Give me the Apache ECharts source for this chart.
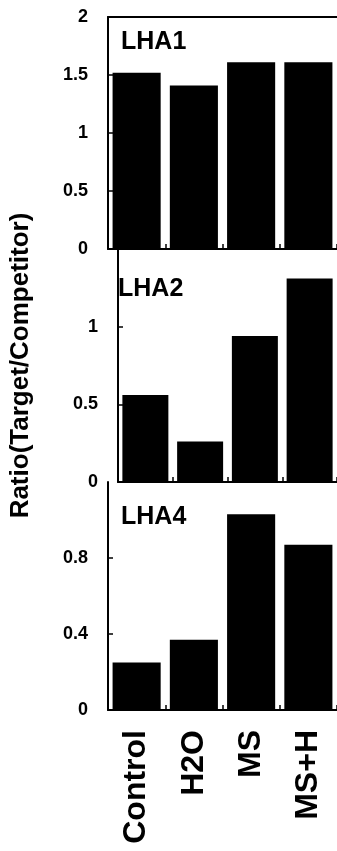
<!DOCTYPE html>
<html>
<head>
<meta charset="utf-8">
<script src="https://cdn.jsdelivr.net/npm/echarts@6/dist/echarts.min.js"></script>
<style>html,body{margin:0;padding:0;background:#fff;}#c{width:337px;height:851px;}</style>
</head>
<body>
<div id="c"></div>
<script>
const categories = ['Control', 'H2O', 'MS', 'MS+H'];
const lha1 = [1.52, 1.41, 1.61, 1.61];
const lha2 = [0.56, 0.26, 0.94, 1.31];
const lha4 = [0.25, 0.37, 1.03, 0.87];
const panelNames = ['LHA1', 'LHA2', 'LHA4'];
const yTitle = 'Ratio(Target/Competitor)';

const FONT = 'Liberation Sans, Arial, sans-serif';
const grids = [
  {left: 108, right: -4, top: 17, height: 232},
  {left: 108, right: -4, top: 249, height: 233},
  {left: 108, right: -4, top: 482, height: 228}
];
const yCfg = [
  {max: 2, interval: 0.5, hideMax: false},
  {max: 1.5, interval: 0.5, hideMax: true},
  {max: 1.2, interval: 0.4, hideMax: true}
];
const seriesData = [lha1, lha2, lha4];

const xAxes = [0, 1, 2].map(i => ({
  type: 'category', gridIndex: i, data: categories, position: 'bottom',
  axisLine: {show: true, lineStyle: {color: '#000', width: 2}},
  axisTick: {show: true, inside: true, length: 5, lineStyle: {color: '#000', width: 1.5}},
  axisLabel: i === 2 ? {show: true, rotate: 90, margin: 20, fontSize: 32, fontWeight: 'bold', color: '#000', fontFamily: FONT} : {show: false},
  splitLine: {show: false}
}));
xAxes.push({
  type: 'category', gridIndex: 0, data: categories, position: 'top',
  axisLine: {show: true, lineStyle: {color: '#000', width: 2}},
  axisTick: {show: false}, axisLabel: {show: false}, splitLine: {show: false}
});

const yAxes = [0, 1, 2].map(i => ({
  type: 'value', gridIndex: i, min: 0, max: yCfg[i].max, interval: yCfg[i].interval,
  axisLine: {show: true, lineStyle: {color: '#000', width: 2}},
  axisTick: {show: true, inside: true, length: 5, lineStyle: {color: '#000', width: 1.5}},
  axisLabel: {show: true, margin: 20, fontSize: 18, fontWeight: 'bold', color: '#000', fontFamily: FONT,
    showMaxLabel: !yCfg[i].hideMax},
  splitLine: {show: false},
  name: i === 1 ? yTitle : '',
  nameLocation: 'middle', nameGap: 84, nameRotate: 90,
  nameTextStyle: {fontSize: 26, fontWeight: 'bold', color: '#000', fontFamily: FONT}
}));

const titles = [
  {text: panelNames[0], left: 121, top: 30},
  {text: panelNames[1], left: 118, top: 277},
  {text: panelNames[2], left: 121, top: 505}
].map(t => Object.assign(t, {padding: 0, textStyle: {fontSize: 25, fontWeight: 'bold', color: '#000', fontFamily: FONT}}));

const chart = echarts.init(document.getElementById('c'), null, {renderer: 'canvas'});
chart.setOption({
  animation: false,
  backgroundColor: '#fff',
  title: titles,
  grid: grids,
  xAxis: xAxes,
  yAxis: yAxes,
  series: [0, 1, 2].map(i => ({
    type: 'bar', xAxisIndex: i, yAxisIndex: i, data: seriesData[i],
    barCategoryGap: '16%', itemStyle: {color: '#000'}
  }))
});
</script>
</body>
</html>
